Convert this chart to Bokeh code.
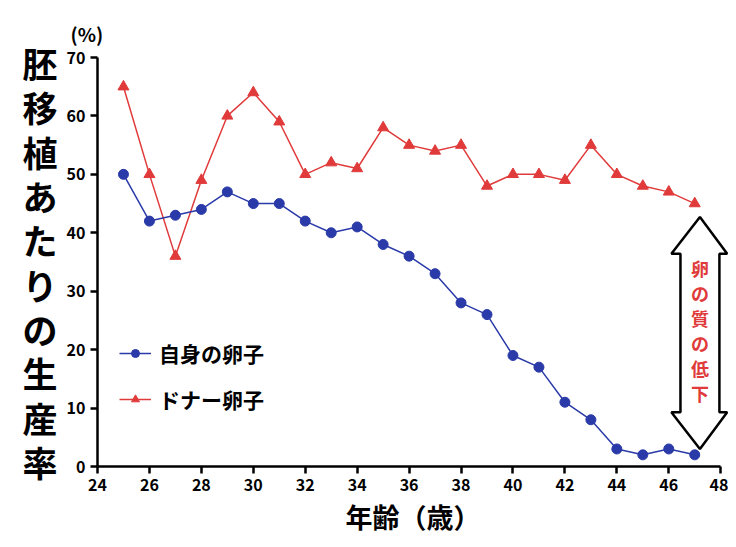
from bokeh.plotting import figure
from bokeh.models import Label, Legend, LegendItem, Range1d, FixedTicker
from bokeh.embed import file_html
from bokeh.resources import INLINE

ages = list(range(25, 48))
own = [50,42,43,44,47,45,45,42,40,41,38,36,33,28,26,19,17,11,8,3,2,3,2]
donor = [65,50,36,49,60,64,59,50,52,51,58,55,54,55,48,50,50,49,55,50,48,47,45]
ylabel = "胚移植あたりの生産率"
xlabel = "年齢（歳）"
arrow_text = "卵の質の低下"
F = "Noto Sans CJK JP"

p = figure(width=728, height=538, output_backend="svg", toolbar_location=None,
           x_range=Range1d(24, 48.3), y_range=Range1d(0, 70),
           min_border_left=97, min_border_right=0, min_border_top=57, min_border_bottom=40)
p.outline_line_color = None
p.grid.visible = False
p.title.text = "(%)"
p.title.text_font = F
p.title.text_font_size = "19px"
p.title.text_font_style = "bold"
p.title.text_color = "black"
p.title.offset = -27
p.title.standoff = 22
for ax in (p.xaxis[0], p.yaxis[0]):
    ax.axis_line_width = 2.5
    ax.major_tick_line_width = 2.5
    ax.major_tick_out = 7
    ax.major_tick_in = 0
    ax.minor_tick_line_color = None
    ax.major_label_text_font = F
    ax.major_label_text_font_style = "bold"
    ax.major_label_text_font_size = "16px"
    ax.major_label_text_color = "black"
    ax.axis_label_text_font = F
    ax.axis_label_text_color = "black"
p.xaxis.ticker = FixedTicker(ticks=list(range(24, 49, 2)))
p.xaxis.bounds = (24, 48)
p.yaxis.ticker = FixedTicker(ticks=list(range(0, 71, 10)))
p.xaxis.axis_label = xlabel
p.xaxis.axis_label_text_font_size = "27px"
p.xaxis.axis_label_text_font_style = "bold"
p.xaxis.axis_label_standoff = 3
p.yaxis.axis_label = "\n".join(ylabel)
p.yaxis.axis_label_orientation = "horizontal"
p.yaxis.axis_label_text_font_size = "35px"
p.yaxis.axis_label_text_font_style = "bold"
p.yaxis.axis_label_text_line_height = 0.87
p.yaxis.axis_label_standoff = 6

# arrow (hollow double arrow)
ax_ = [47.2, 48.25, 47.95, 47.95, 48.25, 47.2, 46.1, 46.45, 46.45, 46.1]
ay_ = [42.7, 36.4, 36.4, 9.3, 9.3, 3.0, 9.3, 9.3, 36.4, 36.4]
p.patch(ax_, ay_, fill_color="white", line_color="black", line_width=2.5)

r1 = p.line(ages, donor, color="#e03a3a", line_width=1.5)
m1 = p.scatter(ages, donor, marker="triangle", size=11, color="#e03a3a")
r2 = p.line(ages, own, color="#2a3aa8", line_width=1.5)
m2 = p.scatter(ages, own, marker="circle", size=10, color="#2a3aa8")

leg = Legend(items=[LegendItem(label="自身の卵子", renderers=[r2, m2]),
                    LegendItem(label="ドナー卵子", renderers=[r1, m1])],
             location=(22, 52), background_fill_alpha=0, border_line_color=None,
             label_text_font=F, label_text_font_style="bold", label_text_font_size="21px",
             label_text_color="black",
             glyph_width=32, spacing=16, label_standoff=8)
p.add_layout(leg, "center")

for i, ch in enumerate(arrow_text):
    p.add_layout(Label(x=47.2, y=34 - i*4.3, text=ch, text_align="center", text_baseline="middle",
                       text_color="#e03a3a", text_font=F, text_font_style="bold", text_font_size="18px"))

open("out.html", "w").write(file_html(p, INLINE))
